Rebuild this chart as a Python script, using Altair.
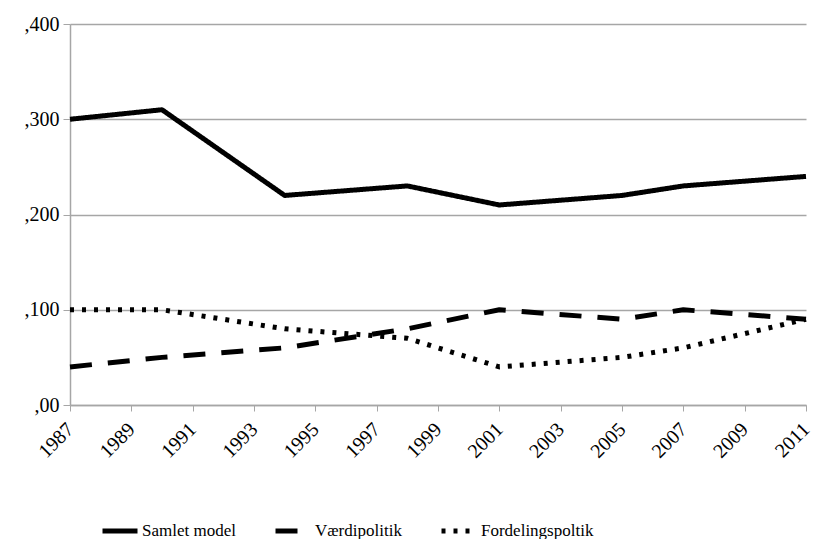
import altair as alt
import pandas as pd

years = [1987, 1990, 1994, 1998, 2001, 2005, 2007, 2011]
samlet = [0.300, 0.310, 0.220, 0.230, 0.210, 0.220, 0.230, 0.240]
vaerdi = [0.040, 0.050, 0.060, 0.080, 0.100, 0.090, 0.100, 0.090]
fordeling = [0.100, 0.100, 0.080, 0.070, 0.040, 0.050, 0.060, 0.090]
series = ["Samlet model", "Værdipolitik", "Fordelingspoltik"]
x_ticks = list(range(1987, 2012, 2))
y_ticks = [0.0, 0.1, 0.2, 0.3, 0.4]

rows = []
for name, vals in zip(series, [samlet, vaerdi, fordeling]):
    for y, v in zip(years, vals):
        rows.append({"year": y, "value": v, "series": name})
df = pd.DataFrame(rows)

FONT = "Times New Roman, Liberation Serif, serif"
GRAY = "#a6a6a6"

chart = alt.Chart(df).mark_line(
    color="black", strokeWidth=5, strokeCap="butt", strokeJoin="round",
    interpolate="linear"
).encode(
    x=alt.X("year:Q", scale=alt.Scale(domain=[1987, 2011], nice=False, zero=False),
            axis=alt.Axis(values=x_ticks, format="d", title=None, grid=False,
                          labelAngle=315, labelAlign="right", labelBaseline="middle",
                          labelFont=FONT, labelFontSize=20, labelColor="black",
                          domainColor=GRAY, domainWidth=1.5, tickColor=GRAY, tickSize=6,
                          labelPadding=15, labelOverlap=False)),
    y=alt.Y("value:Q", scale=alt.Scale(domain=[0, 0.4], nice=False),
            axis=alt.Axis(values=y_ticks, title=None, grid=True, gridColor=GRAY,
                          gridWidth=1.5,
                          labelExpr="datum.value == 0 ? ',00' : ',' + format(datum.value*1000, 'd')",
                          labelFont=FONT, labelFontSize=20, labelColor="black",
                          domainColor=GRAY, domainWidth=1.5, tickColor=GRAY, tickSize=7,
                          labelPadding=4)),
    strokeDash=alt.StrokeDash("series:N", sort=series,
                              scale=alt.Scale(domain=series,
                                              range=[[1, 0], [22, 16], [4, 8]]),
                              legend=alt.Legend(title=None, orient="none", legendX=30, legendY=487,
                                                direction="horizontal", columns=3,
                                                symbolType="stroke", symbolSize=1225,
                                                symbolStrokeWidth=5, symbolStrokeColor="black",
                                                labelFont=FONT, labelFontSize=17, labelColor="black",
                                                labelOffset=2, columnPadding=29, labelLimit=300,
                                                padding=0)),
).properties(
    width=736, height=381,
    autosize=alt.AutoSizeParams(type="none"),
    padding={"left": 62, "top": 16, "right": 10, "bottom": 134},
).configure_view(stroke=None)

chart.save("out.html", embed_options={"renderer": "svg", "actions": False})
